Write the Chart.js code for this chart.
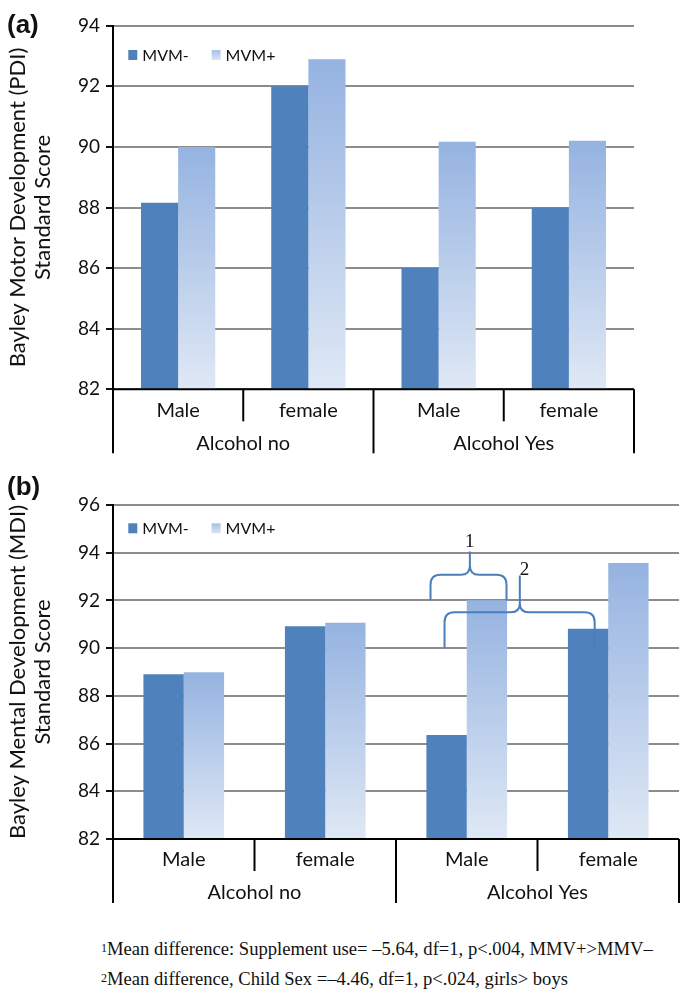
<!DOCTYPE html>
<html>
<head>
<meta charset="utf-8">
<script src="https://cdn.jsdelivr.net/npm/chart.js@4.4.0/dist/chart.umd.min.js"></script>
<style>
html,body{margin:0;padding:0;background:#fff;}
body{width:690px;height:998px;position:relative;overflow:hidden;}
.wrap{position:absolute;left:0;width:690px;}
#wrapA{top:0;height:470px;}
#wrapB{top:470px;height:440px;}
.panel{position:absolute;left:7px;font:bold 26px "Liberation Sans",Arial,sans-serif;line-height:28px;color:#111;z-index:2;}
.note{position:absolute;left:101px;font:18.6px "Liberation Serif","Times New Roman",serif;line-height:22px;white-space:nowrap;color:#111;}
.note sup{font-size:12px;vertical-align:top;position:relative;top:-1px;}
</style>
</head>
<body>
<div class="panel" style="top:10px;">(a)</div>
<div class="panel" style="top:472px;">(b)</div>
<div class="wrap" id="wrapA"><canvas id="chartA" width="690" height="470" style="width:690px;height:470px;"></canvas></div>
<div class="wrap" id="wrapB"><canvas id="chartB" width="690" height="440" style="width:690px;height:440px;"></canvas></div>
<div class="note" style="top:938px;"><sup>1</sup>Mean difference: Supplement use= –5.64, df=1, p&lt;.004, MMV+&gt;MMV–</div>
<div class="note" style="top:968px;"><sup>2</sup>Mean difference, Child Sex =–4.46, df=1, p&lt;.024, girls&gt; boys</div>
<script>
// ---------- data ----------
const categories = ['Male', 'female', 'Male', 'female'];
const groups = ['Alcohol no', 'Alcohol Yes'];
const seriesNames = ['MVM-', 'MVM+'];
const pdiMinus = [88.16, 92.0, 86.0, 88.0];
const pdiPlus  = [90.0, 92.89, 90.17, 90.2];
const mdiMinus = [88.91, 90.92, 86.36, 90.81];
const mdiPlus  = [88.99, 91.06, 92.01, 93.57];
const pdiRange = [82, 94];
const mdiRange = [82, 96];
const tickStep = 2;
const pdiTitle = ['Bayley Motor Development (PDI)', 'Standard Score'];
const mdiTitle = ['Bayley Mental Development (MDI)', 'Standard Score'];
// significance braces on panel (b), in category-index / score units
const braceLabels = ['1', '2'];
const braceCats = [[1.744, 2.022, 2.281], [1.843, 2.375, 2.904]];
const braceVals = [[92.0, 93.08, 94.05], [90.02, 91.5, 93.04]];
const braceLabelPos = [[2.022, 94.46], [2.409, 93.26]];

// ---------- styles ----------
const DARK = '#4f81bd';
const LIGHT_TOP = '#95b3e1';
const LIGHT_BOT = '#dfe8f5';
const FONT = 'Lato, "Open Sans", sans-serif';

function plusFill(c) {
  const chart = c.chart;
  const area = chart.chartArea;
  if (!area || c.type !== 'data') return '#b0c6ea';
  const y = chart.scales.y;
  const top = y.getPixelForValue(c.raw);
  const bottom = y.getPixelForValue(y.min);
  const g = chart.ctx.createLinearGradient(0, top, 0, bottom);
  g.addColorStop(0, LIGHT_TOP);
  g.addColorStop(1, LIGHT_BOT);
  return g;
}

function seg(ctx, x1, y1, x2, y2) {
  ctx.beginPath(); ctx.moveTo(x1, y1); ctx.lineTo(x2, y2); ctx.stroke();
}

const hierAxis = {
  id: 'hierAxis',
  afterDraw(chart, args, opts) {
    const {ctx, chartArea: a, scales: {x}} = chart;
    const n = categories.length;
    const step = x.getPixelForValue(1) - x.getPixelForValue(0);
    ctx.save();
    ctx.strokeStyle = '#000';
    ctx.lineWidth = 2;
    seg(ctx, a.left, a.bottom, a.right, a.bottom);
    for (let i = 0; i <= n; i++) {
      const px = x.getPixelForValue(i) - step / 2;
      const outer = i % 2 === 0;
      seg(ctx, px, a.bottom, px, a.bottom + (outer ? opts.outerLen : opts.innerLen));
    }
    ctx.fillStyle = '#111';
    ctx.textAlign = 'center';
    ctx.textBaseline = 'middle';
    ctx.font = '20px ' + FONT;
    categories.forEach((c, i) => ctx.fillText(c, x.getPixelForValue(i), a.bottom + opts.catY));
    groups.forEach((g, j) => ctx.fillText(g, (x.getPixelForValue(2 * j) + x.getPixelForValue(2 * j + 1)) / 2, a.bottom + opts.groupY));
    ctx.restore();
  }
};

const boxLegend = {
  id: 'boxLegend',
  afterDraw(chart, args, opts) {
    const {ctx, chartArea: a} = chart;
    const cy = a.top + opts.dy;
    ctx.save();
    ctx.font = '16px ' + FONT;
    ctx.textBaseline = 'middle';
    ctx.textAlign = 'left';
    chart.data.datasets.forEach((ds, i) => {
      const bx = a.left + opts.dx + i * opts.gap;
      if (i === 0) {
        ctx.fillStyle = DARK;
      } else {
        const g = ctx.createLinearGradient(0, cy - 5, 0, cy + 5);
        g.addColorStop(0, '#a6bfe8');
        g.addColorStop(1, '#d9e4f5');
        ctx.fillStyle = g;
      }
      ctx.fillRect(bx, cy - 5, 9, 10);
      ctx.fillStyle = '#111';
      ctx.fillText(ds.label, bx + 14, cy + 0.5);
    });
    ctx.restore();
  }
};

const braces = {
  id: 'braces',
  afterDatasetsDraw(chart, args, opts) {
    if (!opts.show) return;
    const {ctx, scales: {x, y}} = chart;
    ctx.save();
    ctx.strokeStyle = '#4a7ebd';
    ctx.lineWidth = 2;
    ctx.lineJoin = 'round';
    braceCats.forEach((bc, k) => {
      const x0 = x.getPixelForValue(bc[0]);
      const xt = x.getPixelForValue(bc[1]);
      const x1 = x.getPixelForValue(bc[2]);
      const yEnd = y.getPixelForValue(braceVals[k][0]);
      const yMid = y.getPixelForValue(braceVals[k][1]);
      const yTip = y.getPixelForValue(braceVals[k][2]);
      const r = 10, r2 = 9;
      ctx.beginPath();
      ctx.moveTo(x0, yEnd);
      ctx.lineTo(x0, yMid + r);
      ctx.quadraticCurveTo(x0, yMid, x0 + r, yMid);
      ctx.lineTo(xt - r2, yMid);
      ctx.quadraticCurveTo(xt, yMid, xt, yMid - r2);
      ctx.lineTo(xt, yTip);
      ctx.moveTo(xt, yMid - r2);
      ctx.quadraticCurveTo(xt, yMid, xt + r2, yMid);
      ctx.lineTo(x1 - r, yMid);
      ctx.quadraticCurveTo(x1, yMid, x1, yMid + r);
      ctx.lineTo(x1, yEnd);
      ctx.stroke();
    });
    ctx.fillStyle = '#111';
    ctx.font = '19px "Liberation Serif", serif';
    ctx.textAlign = 'center';
    ctx.textBaseline = 'middle';
    braceLabels.forEach((t, k) => {
      ctx.fillText(t, x.getPixelForValue(braceLabelPos[k][0]), y.getPixelForValue(braceLabelPos[k][1]));
    });
    ctx.restore();
  }
};

function makeChart(id, minus, plus, range, title, cfg) {
  return new Chart(document.getElementById(id), {
    type: 'bar',
    data: {
      labels: categories,
      datasets: [
        {label: seriesNames[0], data: minus, backgroundColor: DARK, borderWidth: 0, barPercentage: 1, categoryPercentage: 0.57},
        {label: seriesNames[1], data: plus, backgroundColor: plusFill, borderWidth: 0, barPercentage: 1, categoryPercentage: 0.57}
      ]
    },
    options: {
      responsive: false,
      animation: false,
      layout: {padding: cfg.padding},
      plugins: {
        legend: {display: false},
        tooltip: {enabled: false},
        hierAxis: {innerLen: 32, outerLen: 64, catY: 21, groupY: 54},
        boxLegend: {dx: 15.3, dy: cfg.legendDy, gap: 83.3},
        braces: {show: cfg.braces}
      },
      scales: {
        x: {
          type: 'category',
          offset: true,
          ticks: {display: false},
          grid: {display: false},
          border: {display: false},
          afterFit(s) { s.height = 0; }
        },
        y: {
          min: range[0],
          max: range[1],
          ticks: {stepSize: tickStep, color: '#111', font: {family: FONT, size: 19}, padding: 6},
          grid: {color: '#8c8c8c', lineWidth: 2, tickColor: '#111', tickLength: 7, tickWidth: 2},
          border: {display: true, color: '#000', width: 2},
          title: {display: true, text: title, color: '#111', font: {family: FONT, size: 22, lineHeight: 1.14}, padding: {top: 5.5, bottom: 0}},
          afterFit(s) { s.width = 113; }
        }
      }
    },
    plugins: [hierAxis, boxLegend, braces]
  });
}

makeChart('chartA', pdiMinus, pdiPlus, pdiRange, pdiTitle,
  {padding: {top: 25.7, right: 56, bottom: 80.7, left: 0}, legendDy: 29.3, braces: false});
makeChart('chartB', mdiMinus, mdiPlus, mdiRange, mdiTitle,
  {padding: {top: 35, right: 11, bottom: 71, left: 0}, legendDy: 23.3, braces: true});
</script>
</body>
</html>
